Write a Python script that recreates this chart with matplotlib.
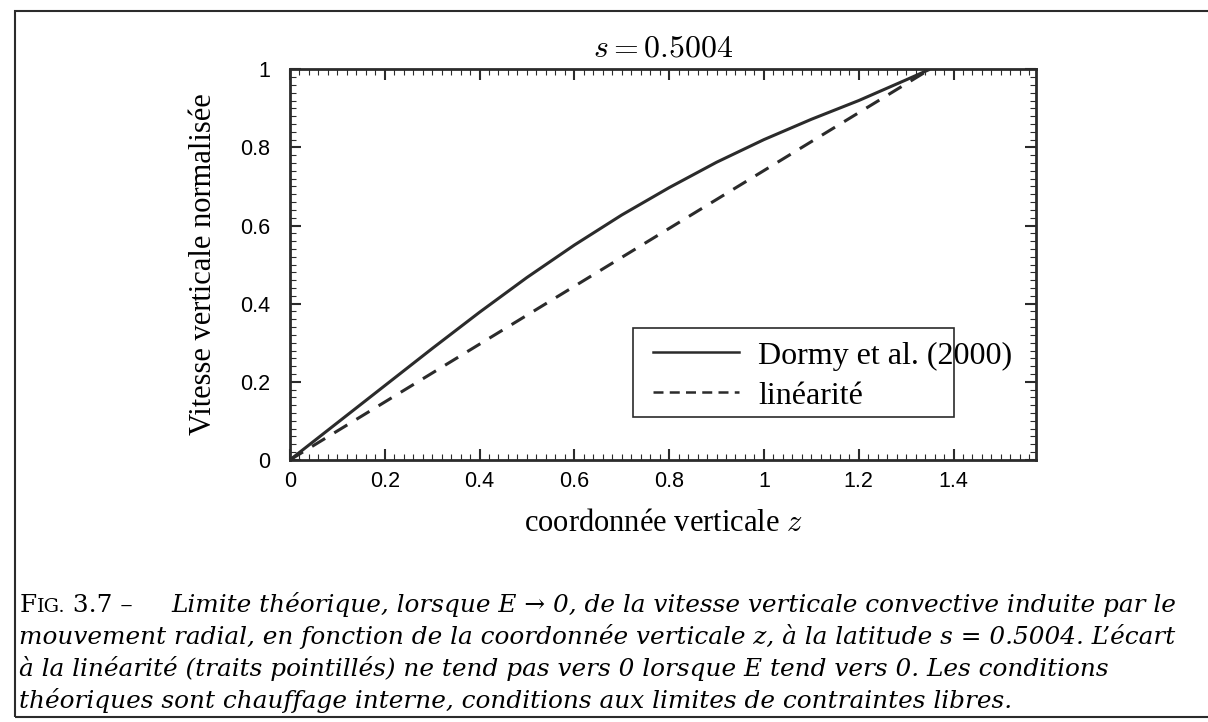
import numpy as np
import matplotlib.pyplot as plt
from matplotlib.patches import Rectangle
from matplotlib.ticker import MultipleLocator, FormatStrFormatter
from matplotlib.transforms import offset_copy

plt.rcParams['mathtext.fontset'] = 'cm'

# vertical coordinate z and normalised vertical velocity
z = [0, 0.1, 0.2, 0.3, 0.4, 0.5, 0.6, 0.7, 0.8, 0.9, 1.0, 1.1, 1.2, 1.3, 1.35]
dormy = [0, 0.095, 0.19, 0.285, 0.378, 0.467, 0.55, 0.627, 0.697, 0.762,
         0.82, 0.872, 0.92, 0.973, 1.0]
lin_z = [0, 1.35]
lin_v = [0, 1.0]

xticks = [0, 0.2, 0.4, 0.6, 0.8, 1, 1.2, 1.4]
yticks = [0, 0.2, 0.4, 0.6, 0.8, 1]
legend_labels = ['Dormy et al. (2000)', 'linéarité']
caption = [
    'Limite théorique, lorsque E → 0, de la vitesse verticale convective induite par le',
    'mouvement radial, en fonction de la coordonnée verticale z, à la latitude s = 0.5004. L’écart',
    'à la linéarité (traits pointillés) ne tend pas vers 0 lorsque E tend vers 0. Les conditions',
    'théoriques sont chauffage interne, conditions aux limites de contraintes libres.',
]

serif = 'Liberation Serif'
capfont = 'DejaVu Serif'
ink = '#2b2b2b'

fig = plt.figure(figsize=(12.08, 7.22), dpi=100)
ax = fig.add_axes([0.240, 0.363, 0.618, 0.541])

ax.plot(z, dormy, color=ink, lw=2.2, solid_capstyle='butt')
ax.plot(lin_z, lin_v, color=ink, lw=2.2, dashes=(5, 3.5))

ax.set_xlim(0, 1.575)
ax.set_ylim(0, 1)
ax.set_xticks(xticks)
ax.set_yticks(yticks)
ax.xaxis.set_minor_locator(MultipleLocator(0.02))
ax.yaxis.set_minor_locator(MultipleLocator(0.02))
ax.xaxis.set_major_formatter(FormatStrFormatter('%g'))
ax.yaxis.set_major_formatter(FormatStrFormatter('%g'))
ax.tick_params(which='both', direction='in', top=True, right=True, colors=ink,
               labelcolor='black')
ax.tick_params(which='major', length=8, width=1.5, labelsize=15.5)
ax.tick_params(axis='y', which='major', pad=14)
ax.tick_params(axis='x', which='major', pad=8)
ax.tick_params(which='minor', length=4, width=0.8)
for lab in ax.get_xticklabels() + ax.get_yticklabels():
    lab.set_fontfamily('Liberation Sans')
for sp in ax.spines.values():
    sp.set_linewidth(2.0)
    sp.set_color(ink)

ax.set_title(r'$s = 0.5004$', fontsize=23, pad=9)
ax.set_xlabel(r'coordonnée verticale $z$', fontfamily=serif, fontsize=22, labelpad=12)
ax.set_ylabel('Vitesse verticale normalisée', fontfamily=serif, fontsize=22, labelpad=16)

# hand-drawn legend box (text runs past the frame as in the original)
ax.add_patch(Rectangle((0.46, 0.11), 0.429, 0.228, transform=ax.transAxes,
                       fill=False, lw=1.2, ec=ink))
ax.plot([0.487, 0.602], [0.276, 0.276], transform=ax.transAxes, color=ink, lw=1.8)
ax.plot([0.487, 0.602], [0.174, 0.174], transform=ax.transAxes, color=ink, lw=1.8,
        dashes=(4, 2.5))
ax.text(0.627, 0.265, legend_labels[0], transform=ax.transAxes, fontfamily=serif,
        fontsize=23, va='center')
ax.text(0.627, 0.163, legend_labels[1], transform=ax.transAxes, fontfamily=serif,
        fontsize=23, va='center')

# outer frame of the figure and caption
fig.add_artist(Rectangle((0.0124, 0.007), 1.2, 0.978, transform=fig.transFigure,
                         fill=False, lw=1.5, ec=ink))
y0 = 1 - 612 / 722
dy = 32 / 722
capsize = 17.8
renderer = fig.canvas.get_renderer()
t1 = fig.text(0.016, y0, 'F', fontfamily=capfont, fontsize=capsize, va='baseline')
w1 = t1.get_window_extent(renderer).width
t2 = fig.text(0.016, y0, 'IG.', fontfamily=capfont, fontsize=capsize * 0.78,
              va='baseline',
              transform=offset_copy(fig.transFigure, fig=fig, x=w1, y=0, units='dots'))
w2 = t2.get_window_extent(renderer).width
fig.text(0.016, y0, ' 3.7 –', fontfamily=capfont, fontsize=capsize, va='baseline',
         transform=offset_copy(fig.transFigure, fig=fig, x=w1 + w2, y=0, units='dots'))
fig.text(0.142, y0, caption[0], fontfamily=capfont, fontstyle='italic',
         fontsize=capsize, va='baseline')
for i, line in enumerate(caption[1:], start=1):
    fig.text(0.016, y0 - i * dy, line, fontfamily=capfont, fontstyle='italic',
             fontsize=capsize, va='baseline')

fig.savefig('out.png', dpi=100)
